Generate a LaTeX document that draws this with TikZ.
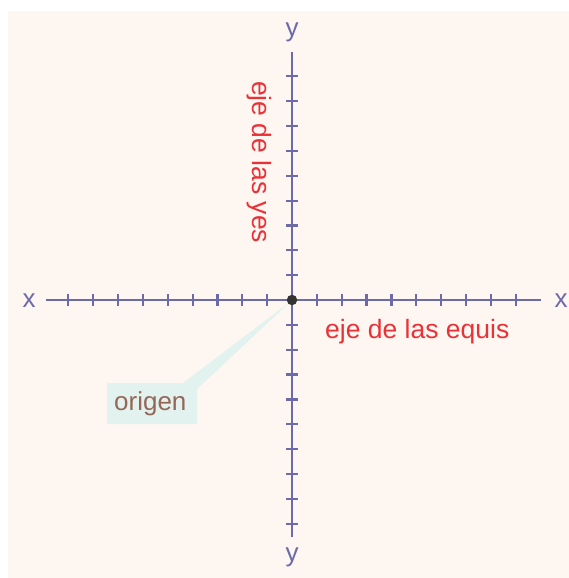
\documentclass[tikz,border=0pt]{standalone}
\usepackage{fontspec}
\setmainfont{Liberation Sans}
\definecolor{bgc}{RGB}{254,246,241}
\definecolor{axc}{RGB}{108,106,168}
\definecolor{redc}{RGB}{232,50,56}
\definecolor{calc}{RGB}{226,242,239}
\definecolor{brownc}{RGB}{150,102,88}
\definecolor{dotc}{RGB}{51,51,51}
\tikzset{
  axis/.style={draw=axc, line width=2.3bp},
  tick/.style={draw=axc, line width=2.2bp},
  axlabel/.style={text=axc, inner sep=0, anchor=base, font=\fontsize{26bp}{30bp}\selectfont},
  redlabel/.style={text=redc, inner sep=0, font=\fontsize{26.5bp}{30bp}\selectfont},
}
\begin{document}
\begin{tikzpicture}[x=1bp,y=-1bp]
\useasboundingbox (0,0) rectangle (569,578);
\fill[bgc] (8,11) rectangle (569,578);
% callout
\coordinate (c1) at (107,383);
\coordinate (c2) at (183,383);
\coordinate (tip) at (290,302);
\coordinate (c3) at (197,389);
\coordinate (c4) at (197,424);
\coordinate (c5) at (107,424);
\fill[calc] (c1) -- (c2) -- (tip) -- (c3) -- (c4) -- (c5) -- cycle;
\node[text=brownc, inner sep=0, anchor=base west, font=\fontsize{26bp}{30bp}\selectfont] (origen) at (114,410) {origen};
% axes
\coordinate (xl) at (46,300);
\coordinate (xr) at (541,300);
\coordinate (yt) at (292,52);
\coordinate (yb) at (292,537);
\draw[axis] (xl) -- (xr);
\draw[axis] (yt) -- (yb);
\foreach \k in {1,...,9}{
  \draw[tick] ({292-24.85*\k},294) -- ({292-24.85*\k},306);
  \draw[tick] ({292+24.85*\k},294) -- ({292+24.85*\k},306);
  \draw[tick] (286,{300-24.85*\k}) -- (298,{300-24.85*\k});
  \draw[tick] (286,{300+24.85*\k}) -- (298,{300+24.85*\k});
}
\node[circle, fill=dotc, minimum size=10.5bp, inner sep=0] (O) at (292,300) {};
% labels
\node[axlabel] (xL) at (29,307) {x};
\node[axlabel] (xR) at (561,307) {x};
\node[axlabel] (yT) at (292,37) {y};
\node[axlabel] (yB) at (292,561) {y};
\node[redlabel, anchor=base west] (ejex) at (325,338) {eje de las equis};
\node[redlabel, anchor=base west, rotate=-90] (ejey) at (252,81) {eje de las yes};
\end{tikzpicture}
\end{document}
